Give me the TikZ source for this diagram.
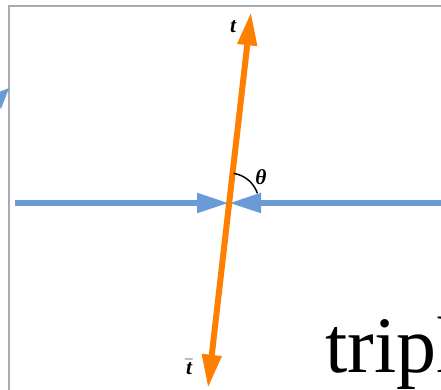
\documentclass[tikz,border=0pt]{standalone}
\usepackage{fontspec}
\setmainfont{Liberation Serif}
\usetikzlibrary{arrows.meta}
\definecolor{beamblue}{RGB}{106,155,216}
\definecolor{quarkorange}{RGB}{255,128,0}
\definecolor{framegray}{RGB}{170,170,170}
\tikzset{
  beam/.style={beamblue, line width=4.5pt, -{Triangle[length=24pt,width=14pt]}},
  quark/.style={quarkorange, line width=4.5pt,
    {Triangle[length=25pt,width=14pt]}-{Triangle[length=25pt,width=14pt]}},
  lbl/.style={font=\fontsize{16}{16}\selectfont\bfseries\itshape, inner sep=1pt}
}
\begin{document}
\begin{tikzpicture}[x=0.75pt,y=-0.75pt]
\useasboundingbox (0,0) rectangle (441,389);
\clip (0,0) rectangle (441,389);
% frame and cut-off arrow at the left
\draw[framegray, line width=1.3pt] (9,400) -- (9,6) -- (450,6);
\fill[beamblue] (9,88) -- (-6,94) -- (1,109) -- cycle;
% beams
\coordinate (O) at (229,203);
\coordinate (W) at (15,203);
\coordinate (E) at (450,203);
\coordinate (top) at (251,12);
\coordinate (bot) at (208,388);
\draw[beam] (W) -- (O);
\draw[beam] (E) -- (O);
\draw[quark] (bot) -- (top);
% angle
\draw[line width=1.1pt] ([shift={(-81:30)}]O) arc[start angle=-81, end angle=-19, radius=30];
\node[lbl] (theta) at (261,177) {θ};
\node[lbl] (t) at (233,27) {t};
\node[lbl] (tbar) at (189,367) {$\bar{\mbox{\textbf{\textit{t}}}}$};
\node[anchor=base west, inner sep=0, font=\fontsize{60}{60}\selectfont] (word) at (325,372) {triple};
\end{tikzpicture}
\end{document}
